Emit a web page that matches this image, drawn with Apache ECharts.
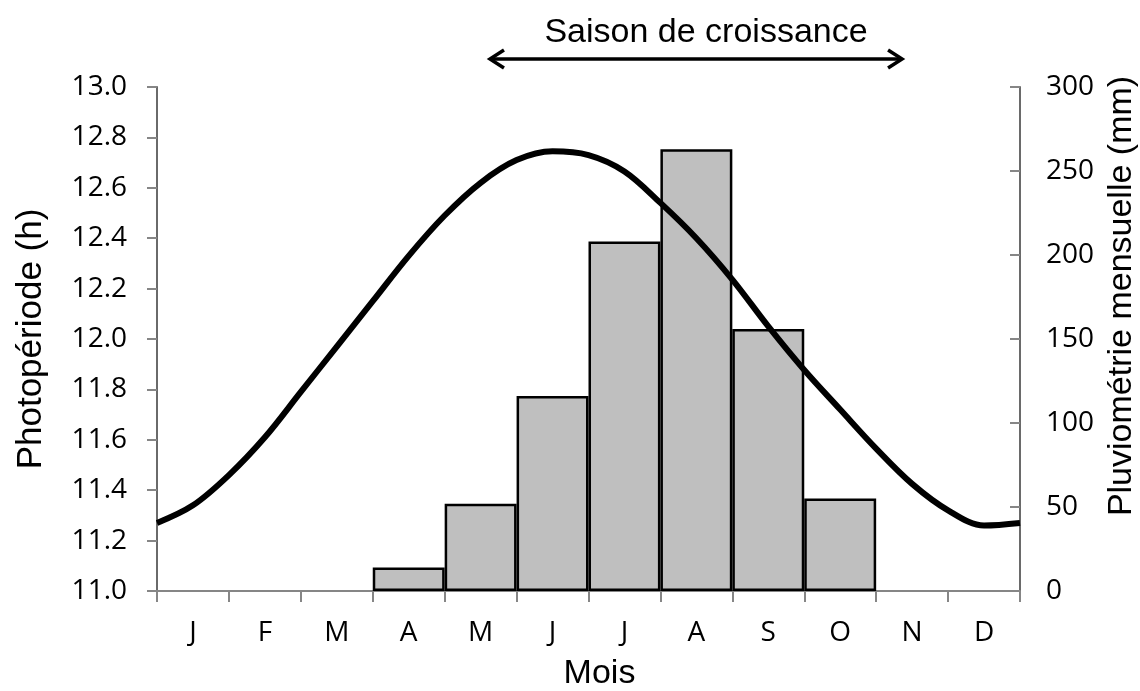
<!DOCTYPE html>
<html>
<head>
<meta charset="utf-8">
<script src="https://cdn.jsdelivr.net/npm/echarts@6/dist/echarts.min.js"></script>
<style>
  html, body { margin: 0; padding: 0; background: #fff; }
  #chart { width: 1140px; height: 691px; }
</style>
</head>
<body>
<div id="chart"></div>
<script>
// mois (axe des catégories)
const months = ['J', 'F', 'M', 'A', 'M', 'J', 'J', 'A', 'S', 'O', 'N', 'D']
// pluviométrie mensuelle (mm)
const rainfall = [0, 0, 0, 14, 52, 116, 208, 263, 156, 55, 0, 0]
// photopériode (h), lue tous les demi-mois (0 = début janvier, 12 = fin décembre)
const photoMonth = [0, 0.5, 1, 1.5, 2, 2.5, 3, 3.5, 4, 4.5, 5, 5.5, 6,
  6.5, 7, 7.5, 8, 8.5, 9, 9.5, 10, 10.5, 11, 11.5, 12]
const photoHours = [11.27, 11.34, 11.46, 11.61, 11.79, 11.97, 12.15, 12.33, 12.49, 12.62, 12.71, 12.745, 12.73,
  12.665, 12.54, 12.40, 12.236, 12.05, 11.877, 11.72, 11.565, 11.425, 11.32, 11.26, 11.27]
// saison de croissance (en mois)
const seasonStart = 4.63
const seasonEnd = 10.36

const tickFont = '"Open Sans", sans-serif'
const nameFont = '"Liberation Sans", Arial, sans-serif'
const axisGray = '#868686'

const chart = echarts.init(document.getElementById('chart'))

chart.setOption({
  animation: false,
  grid: { left: 157, right: 120, top: 87, bottom: 100, containLabel: false, outerBoundsMode: 'none' },
  xAxis: [
    {
      type: 'category',
      data: months,
      boundaryGap: true,
      name: 'Mois',
      nameLocation: 'middle',
      nameGap: 66,
      nameTextStyle: { fontFamily: nameFont, fontSize: 34, color: '#000', padding: [0, 0, 0, 22] },
      axisLine: { lineStyle: { color: axisGray, width: 2 } },
      axisTick: { show: true, alignWithLabel: false, length: 11, lineStyle: { color: axisGray, width: 2 } },
      axisLabel: { fontFamily: tickFont, fontSize: 28, color: '#000', margin: 28 },
      splitLine: { show: false }
    },
    {
      type: 'value',
      min: 0,
      max: 12,
      show: false
    }
  ],
  yAxis: [
    {
      type: 'value',
      min: 11,
      max: 13,
      interval: 0.2,
      position: 'left',
      name: 'Photopériode (h)',
      nameLocation: 'middle',
      nameRotate: 90,
      nameGap: 108,
      nameTextStyle: { fontFamily: nameFont, fontSize: 35, color: '#000' },
      axisLine: { show: true, lineStyle: { color: '#6a6a6a', width: 2 } },
      axisTick: { show: true, length: 10, lineStyle: { color: axisGray, width: 2 } },
      axisLabel: {
        fontFamily: tickFont, fontSize: 28, color: '#000', margin: 30,
        formatter: v => v.toFixed(1)
      },
      splitLine: { show: false }
    },
    {
      type: 'value',
      min: 0,
      max: 300,
      interval: 50,
      position: 'right',
      name: 'Pluviométrie mensuelle (mm)',
      nameLocation: 'middle',
      nameRotate: 90,
      nameGap: 84,
      nameTextStyle: { fontFamily: nameFont, fontSize: 34, color: '#000', padding: [0, 0, 0, 86] },
      axisLine: { show: true, lineStyle: { color: '#6a6a6a', width: 2 } },
      axisTick: { show: true, inside: true, length: 10, lineStyle: { color: axisGray, width: 2 } },
      axisLabel: { fontFamily: tickFont, fontSize: 28, color: '#000', margin: 26 },
      splitLine: { show: false }
    }
  ],
  series: [
    {
      name: 'Pluviométrie',
      type: 'bar',
      xAxisIndex: 0,
      yAxisIndex: 1,
      barCategoryGap: '0%',
      // pas de barre dessinée pour les mois sans pluie
      data: rainfall.map(v => (v > 0 ? v : '-')),
      itemStyle: { color: '#bfbfbf', borderColor: '#000', borderWidth: 2.5 }
    },
    {
      name: 'Photopériode',
      type: 'line',
      xAxisIndex: 1,
      yAxisIndex: 0,
      smooth: 0.35,
      showSymbol: false,
      data: photoMonth.map((m, i) => [m, photoHours[i]]),
      lineStyle: { color: '#000', width: 6 },
      z: 5
    }
  ]
})

// flèche « Saison de croissance » placée via l'axe des mois
const x0 = chart.convertToPixel({ xAxisIndex: 1 }, seasonStart)
const x1 = chart.convertToPixel({ xAxisIndex: 1 }, seasonEnd)
const arrowY = 59
const head = { w: 14, h: 9 }
const arrowStyle = { stroke: '#000', lineWidth: 3.5, fill: null }

chart.setOption({
  graphic: [
    { type: 'line', shape: { x1: x0, y1: arrowY, x2: x1, y2: arrowY }, style: arrowStyle },
    {
      type: 'polyline',
      shape: { points: [[x0 + head.w, arrowY - head.h], [x0, arrowY], [x0 + head.w, arrowY + head.h]] },
      style: arrowStyle
    },
    {
      type: 'polyline',
      shape: { points: [[x1 - head.w, arrowY - head.h], [x1, arrowY], [x1 - head.w, arrowY + head.h]] },
      style: arrowStyle
    },
    {
      type: 'text',
      x: (x0 + x1) / 2 + 10,
      y: 33,
      style: {
        text: 'Saison de croissance',
        fontFamily: nameFont,
        fontSize: 34,
        fill: '#000',
        align: 'center',
        verticalAlign: 'middle'
      }
    }
  ]
})
</script>
</body>
</html>
